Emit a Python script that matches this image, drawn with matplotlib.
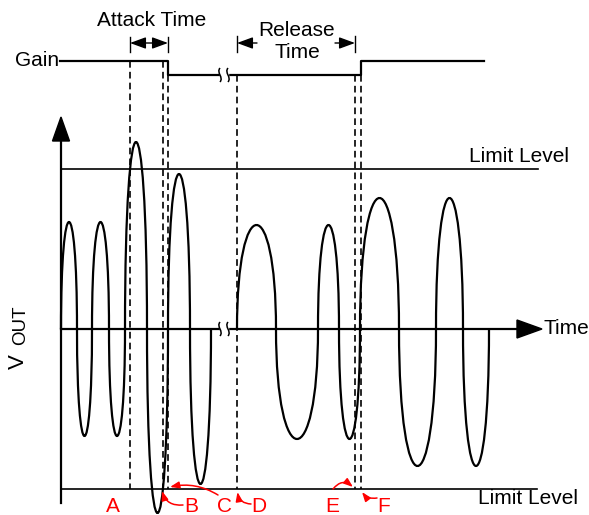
import numpy as np
import matplotlib
matplotlib.use('Agg')
import matplotlib.pyplot as plt
from matplotlib.path import Path
from matplotlib.patches import PathPatch, Polygon, FancyArrowPatch, Rectangle

plt.rcParams['font.family'] = ['Liberation Sans', 'DejaVu Sans']

# waveform: zero crossings (x) and peak of each half cycle (up = positive)
edges_before = [61, 77, 92, 109, 125, 147, 168, 190, 211]
peaks_before = [107, -107, 107, -107, 187, -184, 155, -155]
edges_after = [237, 276, 318, 339, 360, 399, 436, 463, 489]
peaks_after = [104, -110, 104, -110, 131, -137, 131, -137]

limit_level = 160

# gain trace
gain_x = [60, 168, 168, 361, 361, 484]
gain_y = [268, 268, 254, 254, 268, 268]

# event markers
marker_x = [130, 163, 168, 237, 355, 361]
marker_top = [268, 268, 254, 254, 254, 254]
marker_labels = ['A', 'B', 'C', 'D', 'E', 'F']
label_x = [113, 191, 224, 259, 332, 384]
arrow_start = [None, (183, -176), (218, -166), (251, -175), (333, -160), (377, -169)]
arrow_end = [None, (162, -162), (170, -158), (237.5, -163), (353, -158), (362, -163)]
arrow_rad = [0, -0.4, 0.2, -0.4, -0.5, -0.3]

fig = plt.figure(figsize=(5.89, 5.15), dpi=100)
ax = fig.add_axes([0, 0, 1, 1])
ax.set_xlim(0, 589)
ax.set_ylim(-186, 329)
ax.axis('off')


def wave(edges, peaks):
    verts = [(edges[0], 0)]
    codes = [Path.MOVETO]
    for x0, x1, h in zip(edges[:-1], edges[1:], peaks):
        verts += [(x0, h * 4 / 3), (x1, h * 4 / 3), (x1, 0)]
        codes += [Path.CURVE4] * 3
    return PathPatch(Path(verts, codes), fill=False, lw=1.6, color='black', zorder=4)


def squiggle(x, y, half=7):
    verts = [(x, y - half), (x + 4, y - 2), (x - 4, y + 2), (x, y + half)]
    codes = [Path.MOVETO, Path.CURVE4, Path.CURVE4, Path.CURVE4]
    return PathPatch(Path(verts, codes), fill=False, lw=1.1, color='black', zorder=6)


head = '-|>,head_length=0.6,head_width=0.22'
heads = '<|-|>,head_length=0.6,head_width=0.22'

# limit levels
ax.plot([61, 538], [limit_level, limit_level], color='black', lw=1.2)
ax.plot([61, 537], [-limit_level, -limit_level], color='black', lw=1.2)
ax.text(469, 172, 'Limit Level', fontsize=15, ha='left', va='center')
ax.text(478, -169, 'Limit Level', fontsize=15, ha='left', va='center')

# axes
ax.plot([61, 518], [0, 0], color='black', lw=1.6, zorder=3)
ax.add_patch(Polygon([(542, 0), (517, 9), (517, -9)], closed=True, color='black'))
ax.text(543, 0, 'Time', fontsize=15, ha='left', va='center')
ax.plot([61, 61], [-174, 190], color='black', lw=1.6, zorder=3)
ax.add_patch(Polygon([(61, 212), (52.5, 188), (69.5, 188)], closed=True, color='black'))
ax.text(18.5, -33, 'V', fontsize=16, rotation=90, ha='center', va='center')
ax.text(21, 4, 'OUT', fontsize=13.5, rotation=90, ha='center', va='center')

# time axis break
ax.add_patch(Rectangle((220, -3), 8, 6, color='white', zorder=5))
ax.add_patch(squiggle(220, 0))
ax.add_patch(squiggle(228, 0))

# waveform
ax.add_patch(wave(edges_before, peaks_before))
ax.add_patch(wave(edges_after, peaks_after))

# gain
ax.plot(gain_x, gain_y, color='black', lw=1.6, zorder=4)
ax.text(59, 269, 'Gain', fontsize=15, ha='right', va='center')
ax.add_patch(Rectangle((220, 251), 8, 6, color='white', zorder=5))
ax.add_patch(squiggle(220, 254))
ax.add_patch(squiggle(228, 254))

# marker lines and labels
for x, top in zip(marker_x, marker_top):
    ax.plot([x, x], [top, -limit_level], color='black', lw=1.2,
            linestyle=(0, (4, 2.5)), zorder=2)
for lx, lab in zip(label_x, marker_labels):
    ax.text(lx, -178, lab, fontsize=15, color='red', ha='center', va='center')
for s, e, r in zip(arrow_start, arrow_end, arrow_rad):
    if s is None:
        continue
    ax.add_patch(FancyArrowPatch(s, e, arrowstyle=head, mutation_scale=9,
                                 connectionstyle=f'arc3,rad={r}', color='red',
                                 lw=1.1, shrinkA=0, shrinkB=0, zorder=7))

# attack time
for x in [130, 168]:
    ax.plot([x, x], [277, 292], color='black', lw=1.0)
ax.add_patch(FancyArrowPatch((130, 286), (168, 286), arrowstyle=heads,
                             mutation_scale=16, color='black', lw=1.0,
                             shrinkA=0, shrinkB=0))
ax.text(152, 309, 'Attack Time', fontsize=15, ha='center', va='center')

# release time
for x in [237, 355]:
    ax.plot([x, x], [277, 293], color='black', lw=1.0)
ax.add_patch(FancyArrowPatch((257, 286), (237, 286), arrowstyle=head,
                             mutation_scale=16, color='black', lw=1.0,
                             shrinkA=0, shrinkB=0))
ax.add_patch(FancyArrowPatch((335, 286), (355, 286), arrowstyle=head,
                             mutation_scale=16, color='black', lw=1.0,
                             shrinkA=0, shrinkB=0))
ax.text(297, 299, 'Release', fontsize=15, ha='center', va='center')
ax.text(297, 276, 'Time', fontsize=15, ha='center', va='center')

fig.savefig('out.png', dpi=100)
